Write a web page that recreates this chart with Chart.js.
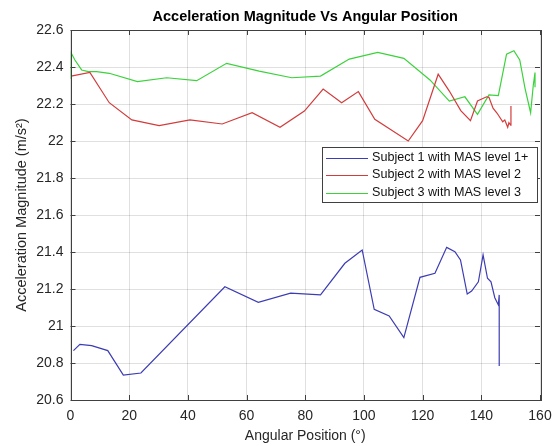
<!DOCTYPE html>
<html>
<head>
<meta charset="utf-8">
<script src="https://cdn.jsdelivr.net/npm/chart.js@4.4.1/dist/chart.umd.min.js"></script>
<style>
  html, body { margin: 0; padding: 0; background: #fff; }
</style>
</head>
<body>
<canvas id="accelChart" width="552" height="446"></canvas>
<script>
// Angular position (deg) and acceleration magnitude (m/s^2) per subject
const subject1Angle = [1.0, 3.2, 7.2, 12.7, 18.0, 24.0, 52.6, 64.0, 75.0, 85.2, 93.5, 99.4, 103.5, 108.6, 113.6, 119.1, 124.2, 128.2, 131.0, 132.9, 135.2, 136.7, 139.0, 140.6, 142.1, 143.3, 144.6, 145.8, 146.1, 146.1];
const subject1Accel = [20.867, 20.901, 20.894, 20.867, 20.735, 20.746, 21.212, 21.128, 21.178, 21.168, 21.339, 21.411, 21.090, 21.054, 20.937, 21.263, 21.285, 21.425, 21.402, 21.357, 21.173, 21.189, 21.239, 21.384, 21.258, 21.239, 21.153, 21.114, 21.168, 20.784];

const subject2Angle = [0.2, 6.6, 13.2, 20.9, 30.2, 40.7, 51.7, 61.9, 71.4, 79.7, 86.1, 92.4, 98.1, 103.7, 115.1, 120.0, 125.3, 129.1, 133.0, 136.3, 138.7, 141.8, 142.6, 144.0, 145.4, 147.3, 148.0, 149.0, 149.4, 150.0, 150.1];
const subject2Accel = [22.351, 22.371, 22.207, 22.114, 22.083, 22.114, 22.092, 22.153, 22.074, 22.162, 22.281, 22.207, 22.267, 22.117, 22.000, 22.110, 22.361, 22.270, 22.164, 22.110, 22.216, 22.239, 22.236, 22.177, 22.150, 22.104, 22.114, 22.074, 22.099, 22.086, 22.189];

const subject3Angle = [0.1, 0.2, 1.5, 3.8, 6.1, 8.9, 13.2, 22.8, 32.8, 43.0, 53.2, 64.3, 75.4, 85.2, 95.0, 104.7, 113.6, 122.5, 129.1, 134.4, 138.7, 142.6, 145.8, 148.6, 151.1, 153.1, 154.9, 156.8, 157.7, 158.3, 158.3];
const subject3Accel = [22.335, 22.477, 22.438, 22.384, 22.375, 22.375, 22.366, 22.321, 22.342, 22.326, 22.420, 22.378, 22.342, 22.351, 22.443, 22.479, 22.447, 22.330, 22.216, 22.239, 22.144, 22.249, 22.245, 22.469, 22.488, 22.438, 22.285, 22.153, 22.300, 22.370, 22.290];

const seriesLabels = ['Subject 1 with MAS level 1+', 'Subject 2 with MAS level 2', 'Subject 3 with MAS level 3'];
const xTicks = [0, 20, 40, 60, 80, 100, 120, 140, 160];
const yTicks = [20.6, 20.8, 21, 21.2, 21.4, 21.6, 21.8, 22, 22.2, 22.4, 22.6];
const chartTitle = 'Acceleration Magnitude Vs Angular Position';

const FONT = "'Liberation Sans', Arial, sans-serif";
const AXIS_COLOR = '#404040';

function toPoints(xs, ys) {
    return xs.map((x, i) => ({ x: x, y: ys[i] }));
}

// MATLAB look: box around the axes with inward ticks, title centred on the
// axes and the legend sitting inside the plot
const matlabAxes = {
    id: 'matlabAxes',
    afterDatasetsDraw(chart) {
        const { ctx, chartArea: a, scales: { x, y } } = chart;
        ctx.save();
        ctx.strokeStyle = AXIS_COLOR;
        ctx.lineWidth = 1;
        ctx.beginPath();
        xTicks.forEach(v => {
            const px = Math.round(x.getPixelForValue(v)) + 0.5;
            ctx.moveTo(px, a.bottom); ctx.lineTo(px, a.bottom - 5);
            ctx.moveTo(px, a.top); ctx.lineTo(px, a.top + 5);
        });
        yTicks.forEach(v => {
            const py = Math.round(y.getPixelForValue(v)) + 0.5;
            ctx.moveTo(a.left, py); ctx.lineTo(a.left + 5, py);
            ctx.moveTo(a.right, py); ctx.lineTo(a.right - 5, py);
        });
        ctx.stroke();
        ctx.strokeRect(Math.round(a.left) + 0.5, Math.round(a.top) + 0.5,
            Math.round(a.right - a.left), Math.round(a.bottom - a.top));
        ctx.restore();
    },
    afterDraw(chart) {
        const { ctx, chartArea: a } = chart;
        ctx.save();
        // title
        ctx.fillStyle = '#000';
        ctx.font = 'bold 14.5px ' + FONT;
        ctx.textAlign = 'center';
        ctx.textBaseline = 'middle';
        ctx.fillText(chartTitle, (a.left + a.right) / 2, 17);

        // legend
        const box = { left: 322, top: 147, width: 215, height: 55 };
        ctx.textAlign = 'left';
        ctx.fillStyle = '#fff';
        ctx.fillRect(box.left, box.top, box.width, box.height);
        ctx.strokeStyle = AXIS_COLOR;
        ctx.lineWidth = 1;
        ctx.strokeRect(box.left + 0.5, box.top + 0.5, box.width, box.height);
        ctx.font = '12.6px ' + FONT;
        chart.data.datasets.forEach((ds, i) => {
            const rowY = box.top + 10.5 + i * 17.5;
            ctx.strokeStyle = ds.borderColor;
            ctx.beginPath();
            ctx.moveTo(box.left + 4, Math.round(rowY) + 0.5);
            ctx.lineTo(box.left + 46, Math.round(rowY) + 0.5);
            ctx.stroke();
            ctx.fillStyle = '#111';
            ctx.fillText(ds.label, box.left + 50, rowY);
        });
        ctx.restore();
    }
};

const ctx = document.getElementById('accelChart').getContext('2d');
const accelChart = new Chart(ctx, {
    type: 'line',
    data: {
        datasets: [{
            label: seriesLabels[0],
            data: toPoints(subject1Angle, subject1Accel),
            borderColor: '#3c3cb4'
        }, {
            label: seriesLabels[1],
            data: toPoints(subject2Angle, subject2Accel),
            borderColor: '#d23c3c'
        }, {
            label: seriesLabels[2],
            data: toPoints(subject3Angle, subject3Accel),
            borderColor: '#3cd23c'
        }]
    },
    options: {
        responsive: false,
        animation: false,
        devicePixelRatio: 1,
        elements: {
            line: { borderWidth: 1.2, tension: 0 },
            point: { radius: 0 }
        },
        layout: { padding: { left: 0, right: 12, top: 30, bottom: 0 } },
        plugins: {
            legend: { display: false },
            tooltip: { enabled: false },
            title: { display: false }
        },
        scales: {
            x: {
                type: 'linear',
                min: 0,
                max: 160,
                afterFit: scale => {
                    scale.height = 46;
                    scale.paddingLeft = 0;
                    scale.paddingRight = 0;
                },
                afterBuildTicks: scale => { scale.ticks = xTicks.map(v => ({ value: v })); },
                border: { display: false },
                grid: { color: 'rgba(0,0,0,0.12)', drawTicks: false },
                ticks: {
                    color: '#262626',
                    padding: 8,
                    maxRotation: 0,
                    font: { family: FONT, size: 14 },
                    callback: v => String(v)
                },
                title: {
                    display: true,
                    text: 'Angular Position (°)',
                    color: '#262626',
                    font: { family: FONT, size: 14 },
                    padding: { top: 0, bottom: 1 }
                }
            },
            y: {
                min: 20.6,
                max: 22.6,
                afterFit: scale => {
                    scale.width = 70.5;
                    scale.paddingTop = 0;
                    scale.paddingBottom = 0;
                },
                afterBuildTicks: scale => { scale.ticks = yTicks.map(v => ({ value: v })); },
                border: { display: false },
                grid: { color: 'rgba(0,0,0,0.12)', drawTicks: false },
                ticks: {
                    color: '#262626',
                    padding: 7,
                    font: { family: FONT, size: 14 },
                    callback: v => String(+v.toFixed(1))
                },
                title: {
                    display: true,
                    text: 'Acceleration Magnitude (m/s²)',
                    color: '#262626',
                    font: { family: FONT, size: 14.5 },
                    padding: { top: 13, bottom: 0 }
                }
            }
        }
    },
    plugins: [matlabAxes]
});
</script>
</body>
</html>
